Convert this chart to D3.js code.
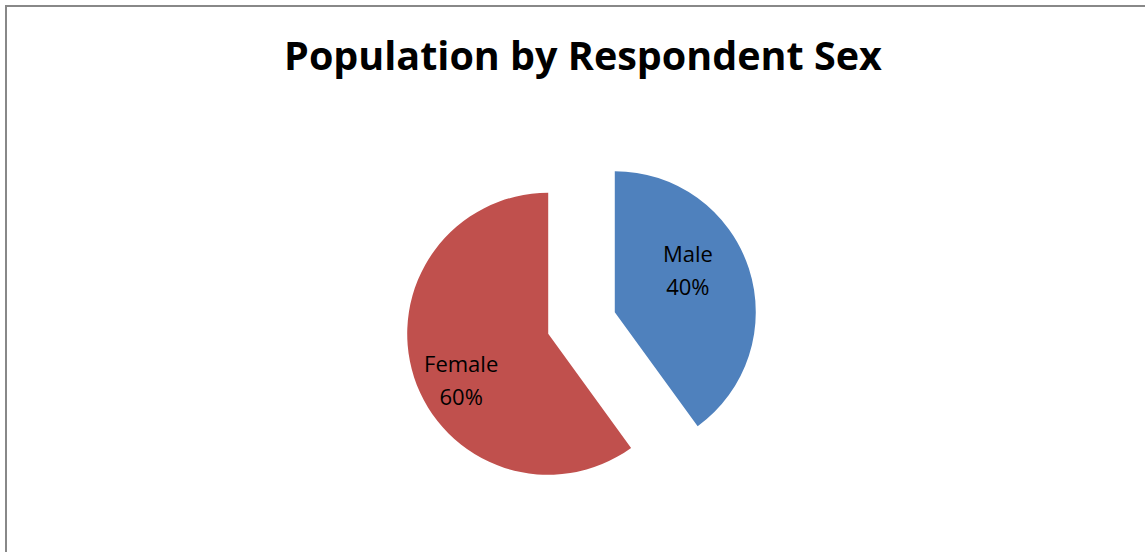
<!DOCTYPE html>
<html lang="en">
	<head>
		<meta charset="UTF-8">
		<title>Population by Respondent Sex</title>
		<script src="https://cdnjs.cloudflare.com/ajax/libs/d3/7.8.5/d3.min.js"></script>
		<style>
			body { margin: 0; background: #fff; }
		</style>
	</head>
	<body>
		<svg id="chart" width="1145" height="552"></svg>
		<script>
var chartTitle = "Population by Respondent Sex";
var categories = ["Male", "Female"];
var values = [40, 60];
var pctLabels = ["40%", "60%"];
var colors = ["#4F81BD", "#C0504D"];

var svg = d3.select("#chart");

// frame: only top and left edges are visible in the crop
svg.append("path")
	.attr("d", "M6,552 L6,6 L1145,6")
	.attr("fill", "none")
	.attr("stroke", "#888")
	.attr("stroke-width", 2);

svg.append("text")
	.attr("x", 583)
	.attr("y", 70)
	.attr("text-anchor", "middle")
	.attr("font-family", "'Open Sans', sans-serif")
	.attr("font-weight", "bold")
	.attr("font-size", 39.5)
	.attr("fill", "#000")
	.text(chartTitle);

var data = categories.map((c, i) => ({ name: c, value: values[i], pct: pctLabels[i], color: colors[i] }));
var total = d3.sum(values);

var cx = 581.5, cy = 323, r = 141, explode = 35;

var pie = d3.pie().sort(null).value(d => d.value);
var arc = d3.arc().innerRadius(0).outerRadius(r);
var arcs = pie(data);

var g = svg.append("g").attr("transform", `translate(${cx},${cy})`);

var slice = g.selectAll("g.slice").data(arcs).enter()
	.append("g")
	.attr("class", "slice")
	.attr("transform", d => {
		var a = (d.startAngle + d.endAngle) / 2;
		return `translate(${explode * Math.sin(a)},${-explode * Math.cos(a)})`;
	});

slice.append("path")
	.attr("d", arc)
	.attr("fill", d => d.data.color);

// label placed inside the slice, a bit before its middle angle
var labelPos = d => {
	var a = d.startAngle + 0.44 * (d.endAngle - d.startAngle);
	var lr = r * (0.3 + 0.7 * d.data.value / total);
	return [lr * Math.sin(a), -lr * Math.cos(a)];
};

var lbl = slice.append("text")
	.attr("text-anchor", "middle")
	.attr("font-family", "'Open Sans', sans-serif")
	.attr("font-size", 22)
	.attr("fill", "#000")
	.attr("transform", d => `translate(${labelPos(d)})`);
lbl.append("tspan").attr("x", 0).attr("y", -14).text(d => d.data.name);
lbl.append("tspan").attr("x", 0).attr("y", 19).text(d => d.data.pct);
		</script>
	</body>
</html>
